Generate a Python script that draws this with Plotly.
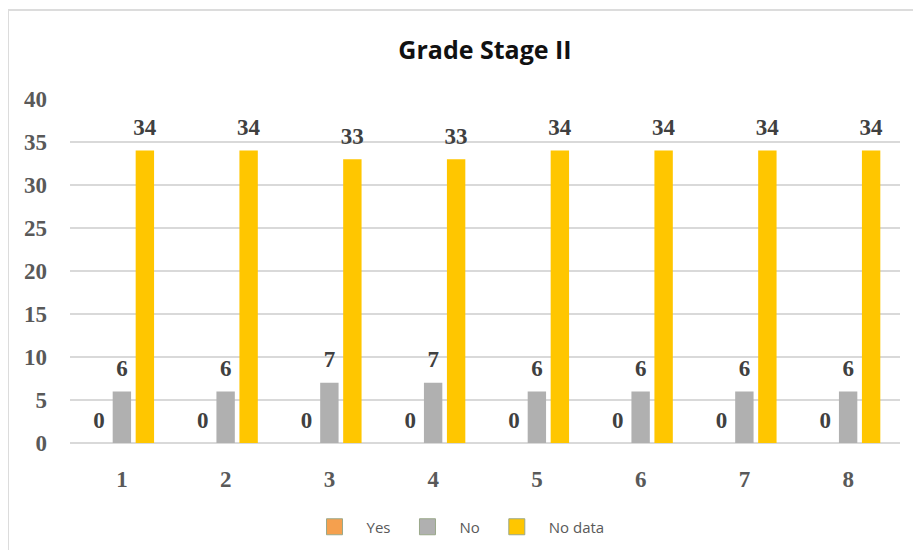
import plotly.graph_objects as go

categories = [1, 2, 3, 4, 5, 6, 7, 8]
yes_values = [0, 0, 0, 0, 0, 0, 0, 0]
no_values = [6, 6, 7, 7, 6, 6, 6, 6]
no_data_values = [34, 34, 33, 33, 34, 34, 34, 34]
y_ticks = [0, 5, 10, 15, 20, 25, 30, 35, 40]

series = [
    ("Yes", yes_values, "#F5A04E"),
    ("No", no_values, "#B0B0B0"),
    ("No data", no_data_values, "#FFC600"),
]

BARGAP = 0.335
GROUPGAP = 0.2
slot = (1 - BARGAP) / len(series)

# page body adds an 8px margin, so the figure is a bit smaller than the window
W, H = 913, 542

label_font = {"family": "Liberation Serif", "size": 23, "color": "#404040", "weight": "bold"}
tick_font = {"family": "Liberation Serif", "size": 23, "color": "#595959"}

fig = go.Figure()
for name, values, color in series:
    fig.add_trace(
        go.Bar(
            x=categories,
            y=values,
            name=name,
            marker={"color": color, "line": {"width": 0}},
            showlegend=False,
        )
    )
for i, (name, values, color) in enumerate(series):
    offset = (i - (len(series) - 1) / 2) * slot
    fig.add_trace(
        go.Scatter(
            x=[c + offset for c in categories],
            y=values,
            mode="markers+text",
            text=[str(v) for v in values],
            textposition="top center",
            textfont=label_font,
            marker={"size": 14, "opacity": 0},
            showlegend=False,
            hoverinfo="skip",
            cliponaxis=False,
        )
    )
# legend entries with large square swatches
for name, values, color in series:
    fig.add_trace(
        go.Scatter(
            x=[None],
            y=[None],
            mode="markers",
            name=name,
            marker={"symbol": "square", "size": 20, "color": color,
                    "line": {"width": 1, "color": "#9aa88a"}},
        )
    )

fig.update_layout(
    width=W,
    height=H,
    barmode="group",
    bargap=BARGAP,
    bargroupgap=GROUPGAP,
    paper_bgcolor="white",
    plot_bgcolor="white",
    margin={"l": 62, "r": 21, "t": 91, "b": 107},
    title={
        "text": "<b>Grade Stage II</b>",
        "x": 0.5,
        "xref": "paper",
        "xanchor": "center",
        "y": 1 - 42 / H,
        "yref": "container",
        "yanchor": "middle",
        "font": {"family": "Open Sans", "size": 25, "color": "#111111"},
    },
    legend={
        "orientation": "h",
        "xref": "container",
        "yref": "container",
        "x": 448 / W,
        "xanchor": "center",
        "y": 23 / H,
        "yanchor": "middle",
        "font": {"family": "Open Sans", "size": 15, "color": "#595959"},
        "itemwidth": 54,
        "tracegroupgap": 0,
    },
    shapes=[
        {
            "type": "rect",
            "xref": "paper",
            "yref": "paper",
            "x0": -62 / 830,
            "x1": 1.1,
            "y0": -0.5,
            "y1": (435 - 2) / 344,
            "line": {"color": "#DCDCDC", "width": 2},
            "layer": "below",
        }
    ],
)
fig.update_xaxes(
    range=[0.5, 8.5],
    tickvals=categories,
    ticktext=[f"<b>{c}</b>" for c in categories],
    tickfont=tick_font,
    showgrid=False,
    zeroline=False,
    showline=False,
    ticks="",
    ticklabelstandoff=20,
)
fig.update_yaxes(
    range=[0, 40],
    tickvals=y_ticks,
    ticktext=[f"<b>{t}</b>" for t in y_ticks],
    tickfont=tick_font,
    showgrid=True,
    gridcolor="#D9D9D9",
    gridwidth=1.5,
    zeroline=True,
    zerolinecolor="#D9D9D9",
    zerolinewidth=1.5,
    ticks="",
    ticklabelstandoff=22,
)

fig.write_html("out.html")
